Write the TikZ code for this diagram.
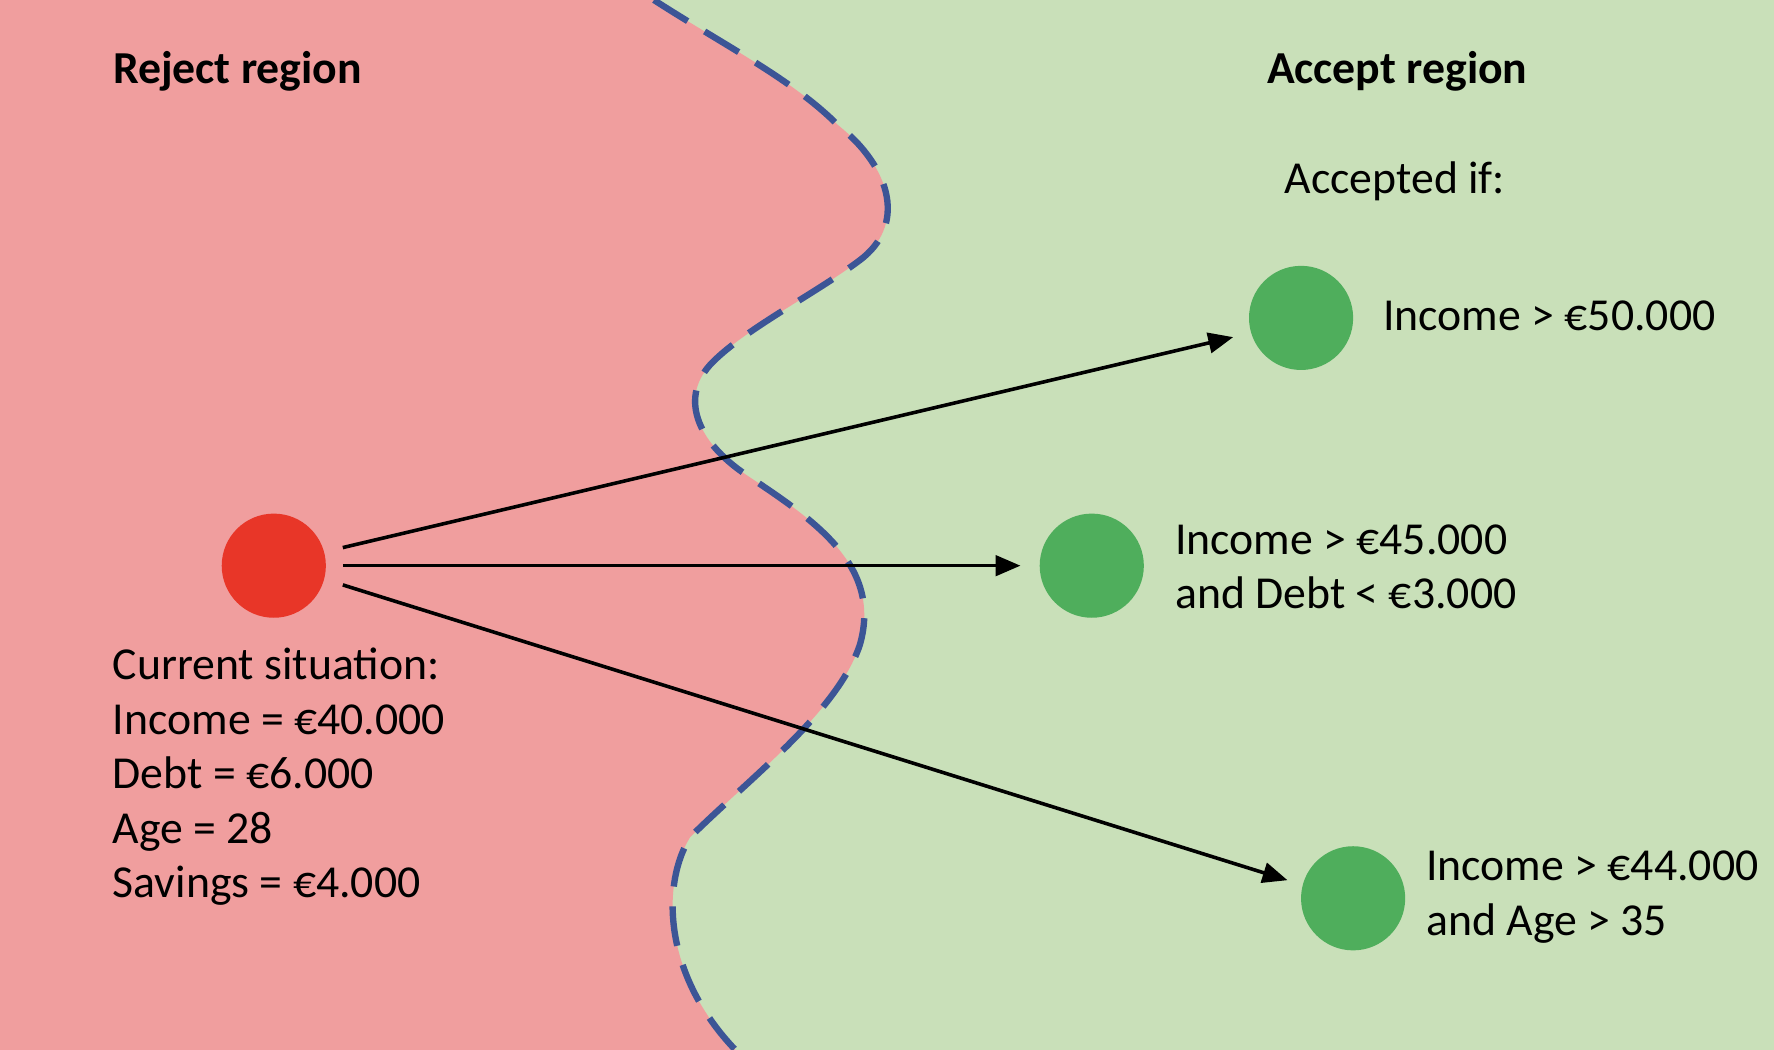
\documentclass[tikz,border=0pt]{standalone}
\usepackage{fontspec}
\setmainfont{Carlito}
\usetikzlibrary{arrows.meta}
\definecolor{rejbg}{RGB}{240,158,158}
\definecolor{accbg}{RGB}{201,224,185}
\definecolor{reddot}{RGB}{232,54,40}
\definecolor{greendot}{RGB}{79,174,92}
\definecolor{bnd}{RGB}{60,85,150}
\tikzset{
  dot/.style={circle,minimum size=0.92cm,inner sep=0pt},
  lbl/.style={anchor=west,align=left,font=\fontsize{11.5}{13.7}\selectfont,inner sep=0pt},
  ttl/.style={font=\fontsize{11.5}{13.7}\selectfont\bfseries},
  arr/.style={-{Triangle[length=0.22cm,width=0.18cm]},line width=0.9pt}
}
\begin{document}
\begin{tikzpicture}[x=0.01cm,y=-0.01cm]
\useasboundingbox (0,0) rectangle (1568,928);
\fill[accbg] (0,0) rectangle (1568,928);
\def\bpath{(578,0) .. controls (640,40) and (700,70) .. (740,110) .. controls (790,150) and (800,200) .. (760,230) .. controls (720,260) and (660,290) .. (630,320) .. controls (600,350) and (615,390) .. (660,420) .. controls (720,460) and (780,500) .. (760,570) .. controls (740,630) and (660,690) .. (610,740) .. controls (585,780) and (585,860) .. (650,928)}
\fill[rejbg] (0,0) -- \bpath -- (0,928) -- cycle;
\draw[bnd,line width=1.6pt,dash pattern=on 10pt off 5pt] \bpath;
\node[ttl] (rej) at (210,63) {Reject region};
\node[ttl] (acc) at (1235,63) {Accept region};
\node[lbl,anchor=center] (aif) at (1233,160) {Accepted if:};
\node[dot,fill=reddot] (cur) at (242,500) {};
\node[dot,fill=greendot] (g1) at (1150,281) {};
\node[dot,fill=greendot] (g2) at (965,500) {};
\node[dot,fill=greendot] (g3) at (1196,794) {};
\node[lbl] (t1) at (1222,279) {Income > €50.000};
\node[lbl] (t2) at (1038,501) {Income > €45.000\\and Debt < €3.000};
\node[lbl] (t3) at (1260,793) {Income > €44.000\\and Age > 35};
\node[lbl,anchor=north west] (tc) at (99,572) {Current situation:\\Income = €40.000\\Debt = €6.000\\Age = 28\\Savings = €4.000};
\coordinate (s1) at (303,484); \coordinate (e1) at (1090,298);
\coordinate (s2) at (303,500); \coordinate (e2) at (902,500);
\coordinate (s3) at (303,517); \coordinate (e3) at (1138,778);
\draw[arr] (s1) -- (e1);
\draw[arr] (s2) -- (e2);
\draw[arr] (s3) -- (e3);
\end{tikzpicture}
\end{document}
